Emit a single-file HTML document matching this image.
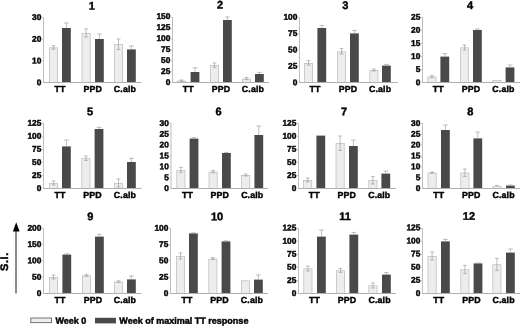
<!DOCTYPE html>
<html><head><meta charset="utf-8"><title>Figure</title>
<style>
html,body{margin:0;padding:0;background:#fff;}
body{width:520px;height:326px;overflow:hidden;}
svg{display:block;}
text{font-family:"Liberation Sans",Arial,Helvetica,sans-serif;font-weight:bold;fill:#000;stroke:#000;stroke-width:0.42px;text-rendering:geometricPrecision;}
.t{font-size:11px;text-anchor:middle;}
.c{font-size:8.8px;text-anchor:middle;letter-spacing:0.12px;}
.k{font-size:8.4px;text-anchor:end;}
.s{font-size:11px;letter-spacing:0.6px;}
.l{font-size:9.03px;}
</style></head><body>
<svg width="520" height="326" viewBox="0 0 520 326">
<defs><filter id="soft" x="0" y="0" width="520" height="326" filterUnits="userSpaceOnUse"><feGaussianBlur stdDeviation="0.3"/></filter></defs>
<rect width="520" height="326" fill="#fff"/>
<g filter="url(#soft)">
<rect width="520" height="326" fill="#fff"/>
<g><text class="t" x="91.7" y="9.5" transform="rotate(0.04 91.7 9.5)">1</text><rect x="49.4" y="47.8" width="8.2" height="34.7" fill="#ededed" stroke="#bababa" stroke-width="0.7"/><path d="M53.5 45.6V49.2M51.6 45.6H55.4M51.6 49.2H55.4" stroke="#929292" stroke-width="0.6" fill="none"/><rect x="62" y="28" width="8.8" height="54.5" fill="#4a4a4a"/><path d="M66.4 23V28M64 23H68.8" stroke="#9c9c9c" stroke-width="0.65" fill="none"/><text class="c" x="59.9" y="92.1" transform="rotate(0.04 59.9 92.1)">TT</text><rect x="82" y="33.4" width="8.2" height="49.1" fill="#ededed" stroke="#bababa" stroke-width="0.7"/><path d="M86.1 29V37M84.2 29H88M84.2 37H88" stroke="#929292" stroke-width="0.6" fill="none"/><rect x="95" y="39" width="8.8" height="43.5" fill="#4a4a4a"/><path d="M99.4 34V39M97 34H101.8" stroke="#9c9c9c" stroke-width="0.65" fill="none"/><text class="c" x="92.7" y="92.1" transform="rotate(0.04 92.7 92.1)">PPD</text><rect x="114.4" y="44.4" width="8.2" height="38.1" fill="#ededed" stroke="#bababa" stroke-width="0.7"/><path d="M118.5 39V49.4M116.6 39H120.4M116.6 49.4H120.4" stroke="#929292" stroke-width="0.6" fill="none"/><rect x="127" y="49.4" width="8.8" height="33.1" fill="#4a4a4a"/><path d="M131.4 46V49.4M129 46H133.8" stroke="#9c9c9c" stroke-width="0.65" fill="none"/><text class="c" x="124.9" y="92.1" transform="rotate(0.04 124.9 92.1)">C.alb</text><path d="M43.5 17.2V82.5" stroke="#bebebe" stroke-width="1" fill="none"/><path d="M43 82.5H141.6" stroke="#b0b0b0" stroke-width="1" fill="none"/><text class="k" x="41.4" y="85.2" transform="rotate(0.04 41.4 85.2)">0</text><text class="k" x="41.4" y="63.5" transform="rotate(0.04 41.4 63.5)">10</text><path d="M41.9 60.9H43.5" stroke="#bebebe" stroke-width="0.8" fill="none"/><text class="k" x="41.4" y="41.8" transform="rotate(0.04 41.4 41.8)">20</text><path d="M41.9 39.3H43.5" stroke="#bebebe" stroke-width="0.8" fill="none"/><text class="k" x="41.4" y="20.1" transform="rotate(0.04 41.4 20.1)">30</text><path d="M41.9 17.7H43.5" stroke="#bebebe" stroke-width="0.8" fill="none"/></g>
<g><text class="t" x="220" y="8.5" transform="rotate(0.04 220 8.5)">2</text><rect x="177.4" y="81" width="8.2" height="1.5" fill="#ededed" stroke="#bababa" stroke-width="0.7"/><path d="M181.5 80V81.4M179.6 80H183.4M179.6 81.4H183.4" stroke="#929292" stroke-width="0.6" fill="none"/><rect x="190.6" y="72" width="8.8" height="10.5" fill="#4a4a4a"/><path d="M195 67.8V72M192.6 67.8H197.4" stroke="#9c9c9c" stroke-width="0.65" fill="none"/><text class="c" x="188.2" y="92.1" transform="rotate(0.04 188.2 92.1)">TT</text><rect x="210.4" y="65.4" width="8.2" height="17.1" fill="#ededed" stroke="#bababa" stroke-width="0.7"/><path d="M214.5 63V67.4M212.6 63H216.4M212.6 67.4H216.4" stroke="#929292" stroke-width="0.6" fill="none"/><rect x="223" y="20" width="8.8" height="62.5" fill="#4a4a4a"/><path d="M227.4 17V20M225 17H229.8" stroke="#9c9c9c" stroke-width="0.65" fill="none"/><text class="c" x="220.9" y="92.1" transform="rotate(0.04 220.9 92.1)">PPD</text><rect x="242.4" y="79" width="8.2" height="3.5" fill="#ededed" stroke="#bababa" stroke-width="0.7"/><path d="M246.5 77.4V79.6M244.6 77.4H248.4M244.6 79.6H248.4" stroke="#929292" stroke-width="0.6" fill="none"/><rect x="255" y="74" width="8.8" height="8.5" fill="#4a4a4a"/><path d="M259.4 72.4V74M257 72.4H261.8" stroke="#9c9c9c" stroke-width="0.65" fill="none"/><text class="c" x="252.9" y="92.1" transform="rotate(0.04 252.9 92.1)">C.alb</text><path d="M172.5 17V82.5" stroke="#bebebe" stroke-width="1" fill="none"/><path d="M172 82.5H269" stroke="#b0b0b0" stroke-width="1" fill="none"/><text class="k" x="170.4" y="84.95" transform="rotate(0.04 170.4 84.95)">0</text><text class="k" x="170.4" y="73.97" transform="rotate(0.04 170.4 73.97)">25</text><path d="M170.9 71.67H172.5" stroke="#bebebe" stroke-width="0.8" fill="none"/><text class="k" x="170.4" y="63" transform="rotate(0.04 170.4 63)">50</text><path d="M170.9 60.83H172.5" stroke="#bebebe" stroke-width="0.8" fill="none"/><text class="k" x="170.4" y="52.02" transform="rotate(0.04 170.4 52.02)">75</text><path d="M170.9 50H172.5" stroke="#bebebe" stroke-width="0.8" fill="none"/><text class="k" x="170.4" y="41.05" transform="rotate(0.04 170.4 41.05)">100</text><path d="M170.9 39.17H172.5" stroke="#bebebe" stroke-width="0.8" fill="none"/><text class="k" x="170.4" y="30.07" transform="rotate(0.04 170.4 30.07)">125</text><path d="M170.9 28.33H172.5" stroke="#bebebe" stroke-width="0.8" fill="none"/><text class="k" x="170.4" y="19.1" transform="rotate(0.04 170.4 19.1)">150</text><path d="M170.9 17.5H172.5" stroke="#bebebe" stroke-width="0.8" fill="none"/></g>
<g><text class="t" x="345.4" y="9.1" transform="rotate(0.04 345.4 9.1)">3</text><rect x="304.4" y="63.4" width="8.2" height="19.1" fill="#ededed" stroke="#bababa" stroke-width="0.7"/><path d="M308.5 60.6V65.2M306.6 60.6H310.4M306.6 65.2H310.4" stroke="#929292" stroke-width="0.6" fill="none"/><rect x="317.4" y="28" width="8.8" height="54.5" fill="#4a4a4a"/><path d="M321.8 25.4V28M319.4 25.4H324.2" stroke="#9c9c9c" stroke-width="0.65" fill="none"/><text class="c" x="315.1" y="92.1" transform="rotate(0.04 315.1 92.1)">TT</text><rect x="337.4" y="51.8" width="8.2" height="30.7" fill="#ededed" stroke="#bababa" stroke-width="0.7"/><path d="M341.5 48.6V54M339.6 48.6H343.4M339.6 54H343.4" stroke="#929292" stroke-width="0.6" fill="none"/><rect x="350" y="33.4" width="8.8" height="49.1" fill="#4a4a4a"/><path d="M354.4 30.4V33.4M352 30.4H356.8" stroke="#9c9c9c" stroke-width="0.65" fill="none"/><text class="c" x="347.9" y="92.1" transform="rotate(0.04 347.9 92.1)">PPD</text><rect x="369.8" y="70.4" width="8.2" height="12.1" fill="#ededed" stroke="#bababa" stroke-width="0.7"/><path d="M373.9 69V71M372 69H375.8M372 71H375.8" stroke="#929292" stroke-width="0.6" fill="none"/><rect x="382" y="65.6" width="8.8" height="16.9" fill="#4a4a4a"/><path d="M386.4 64.4V65.6M384 64.4H388.8" stroke="#9c9c9c" stroke-width="0.65" fill="none"/><text class="c" x="380.1" y="92.1" transform="rotate(0.04 380.1 92.1)">C.alb</text><path d="M299.5 17V82.5" stroke="#bebebe" stroke-width="1" fill="none"/><path d="M299 82.5H398" stroke="#b0b0b0" stroke-width="1" fill="none"/><text class="k" x="297.4" y="85.2" transform="rotate(0.04 297.4 85.2)">0</text><text class="k" x="297.4" y="68.82" transform="rotate(0.04 297.4 68.82)">25</text><path d="M297.9 66.25H299.5" stroke="#bebebe" stroke-width="0.8" fill="none"/><text class="k" x="297.4" y="52.45" transform="rotate(0.04 297.4 52.45)">50</text><path d="M297.9 50H299.5" stroke="#bebebe" stroke-width="0.8" fill="none"/><text class="k" x="297.4" y="36.07" transform="rotate(0.04 297.4 36.07)">75</text><path d="M297.9 33.75H299.5" stroke="#bebebe" stroke-width="0.8" fill="none"/><text class="k" x="297.4" y="19.7" transform="rotate(0.04 297.4 19.7)">100</text><path d="M297.9 17.5H299.5" stroke="#bebebe" stroke-width="0.8" fill="none"/></g>
<g><text class="t" x="470" y="9.1" transform="rotate(0.04 470 9.1)">4</text><rect x="427.8" y="77" width="8.2" height="5.5" fill="#ededed" stroke="#bababa" stroke-width="0.7"/><path d="M431.9 75.6V77.6M430 75.6H433.8M430 77.6H433.8" stroke="#929292" stroke-width="0.6" fill="none"/><rect x="440.4" y="56.6" width="8.8" height="25.9" fill="#4a4a4a"/><path d="M444.8 53.6V56.6M442.4 53.6H447.2" stroke="#9c9c9c" stroke-width="0.65" fill="none"/><text class="c" x="438.3" y="92.1" transform="rotate(0.04 438.3 92.1)">TT</text><rect x="460.4" y="47.8" width="8.2" height="34.7" fill="#ededed" stroke="#bababa" stroke-width="0.7"/><path d="M464.5 45V50M462.6 45H466.4M462.6 50H466.4" stroke="#929292" stroke-width="0.6" fill="none"/><rect x="473" y="30" width="8.8" height="52.5" fill="#4a4a4a"/><path d="M477.4 29V30M475 29H479.8" stroke="#9c9c9c" stroke-width="0.65" fill="none"/><text class="c" x="470.9" y="92.1" transform="rotate(0.04 470.9 92.1)">PPD</text><rect x="492.8" y="80.4" width="8.2" height="2.1" fill="#ededed" stroke="#bababa" stroke-width="0.7"/><rect x="505.6" y="67.4" width="8.8" height="15.1" fill="#4a4a4a"/><path d="M510 65V67.4M507.6 65H512.4" stroke="#9c9c9c" stroke-width="0.65" fill="none"/><text class="c" x="503.4" y="92.1" transform="rotate(0.04 503.4 92.1)">C.alb</text><path d="M422.5 17V82.5" stroke="#bebebe" stroke-width="1" fill="none"/><path d="M422 82.5H520" stroke="#b0b0b0" stroke-width="1" fill="none"/><text class="k" x="420.4" y="85.2" transform="rotate(0.04 420.4 85.2)">0</text><text class="k" x="420.4" y="72.1" transform="rotate(0.04 420.4 72.1)">5</text><path d="M420.9 69.5H422.5" stroke="#bebebe" stroke-width="0.8" fill="none"/><text class="k" x="420.4" y="59" transform="rotate(0.04 420.4 59)">10</text><path d="M420.9 56.5H422.5" stroke="#bebebe" stroke-width="0.8" fill="none"/><text class="k" x="420.4" y="45.9" transform="rotate(0.04 420.4 45.9)">15</text><path d="M420.9 43.5H422.5" stroke="#bebebe" stroke-width="0.8" fill="none"/><text class="k" x="420.4" y="32.8" transform="rotate(0.04 420.4 32.8)">20</text><path d="M420.9 30.5H422.5" stroke="#bebebe" stroke-width="0.8" fill="none"/><text class="k" x="420.4" y="19.7" transform="rotate(0.04 420.4 19.7)">25</text><path d="M420.9 17.5H422.5" stroke="#bebebe" stroke-width="0.8" fill="none"/></g>
<g><text class="t" x="90" y="115.15" transform="rotate(0.04 90 115.15)">5</text><rect x="49.4" y="183.4" width="8.2" height="5.1" fill="#ededed" stroke="#bababa" stroke-width="0.7"/><path d="M53.5 181V185M51.6 181H55.4M51.6 185H55.4" stroke="#929292" stroke-width="0.6" fill="none"/><rect x="62" y="146.4" width="8.8" height="42.1" fill="#4a4a4a"/><path d="M66.4 140V146.4M64 140H68.8" stroke="#9c9c9c" stroke-width="0.65" fill="none"/><text class="c" x="59.9" y="198.1" transform="rotate(0.04 59.9 198.1)">TT</text><rect x="81.8" y="158.6" width="8.2" height="29.9" fill="#ededed" stroke="#bababa" stroke-width="0.7"/><path d="M85.9 156V160.4M84 156H87.8M84 160.4H87.8" stroke="#929292" stroke-width="0.6" fill="none"/><rect x="94.6" y="129" width="8.8" height="59.5" fill="#4a4a4a"/><path d="M99 127.4V129M96.6 127.4H101.4" stroke="#9c9c9c" stroke-width="0.65" fill="none"/><text class="c" x="92.4" y="198.1" transform="rotate(0.04 92.4 198.1)">PPD</text><rect x="114.4" y="183.4" width="8.2" height="5.1" fill="#ededed" stroke="#bababa" stroke-width="0.7"/><path d="M118.5 179V187M116.6 179H120.4M116.6 187H120.4" stroke="#929292" stroke-width="0.6" fill="none"/><rect x="127" y="162" width="8.8" height="26.5" fill="#4a4a4a"/><path d="M131.4 158.4V162M129 158.4H133.8" stroke="#9c9c9c" stroke-width="0.65" fill="none"/><text class="c" x="124.9" y="198.1" transform="rotate(0.04 124.9 198.1)">C.alb</text><path d="M43.5 123V188.5" stroke="#bebebe" stroke-width="1" fill="none"/><path d="M43 188.5H141.6" stroke="#b0b0b0" stroke-width="1" fill="none"/><text class="k" x="41.4" y="191.1" transform="rotate(0.04 41.4 191.1)">0</text><text class="k" x="41.4" y="178.03" transform="rotate(0.04 41.4 178.03)">25</text><path d="M41.9 175.5H43.5" stroke="#bebebe" stroke-width="0.8" fill="none"/><text class="k" x="41.4" y="164.96" transform="rotate(0.04 41.4 164.96)">50</text><path d="M41.9 162.5H43.5" stroke="#bebebe" stroke-width="0.8" fill="none"/><text class="k" x="41.4" y="151.89" transform="rotate(0.04 41.4 151.89)">75</text><path d="M41.9 149.5H43.5" stroke="#bebebe" stroke-width="0.8" fill="none"/><text class="k" x="41.4" y="138.82" transform="rotate(0.04 41.4 138.82)">100</text><path d="M41.9 136.5H43.5" stroke="#bebebe" stroke-width="0.8" fill="none"/><text class="k" x="41.4" y="125.75" transform="rotate(0.04 41.4 125.75)">125</text><path d="M41.9 123.5H43.5" stroke="#bebebe" stroke-width="0.8" fill="none"/></g>
<g><text class="t" x="218.6" y="115.3" transform="rotate(0.04 218.6 115.3)">6</text><rect x="176.8" y="170.4" width="8.2" height="18.1" fill="#ededed" stroke="#bababa" stroke-width="0.7"/><path d="M180.9 167.4V172.6M179 167.4H182.8M179 172.6H182.8" stroke="#929292" stroke-width="0.6" fill="none"/><rect x="189.6" y="138.6" width="8.8" height="49.9" fill="#4a4a4a"/><path d="M194 137.6V138.6M191.6 137.6H196.4" stroke="#9c9c9c" stroke-width="0.65" fill="none"/><text class="c" x="187.4" y="198.1" transform="rotate(0.04 187.4 198.1)">TT</text><rect x="209" y="172" width="8.2" height="16.5" fill="#ededed" stroke="#bababa" stroke-width="0.7"/><path d="M213.1 170.4V172.8M211.2 170.4H215M211.2 172.8H215" stroke="#929292" stroke-width="0.6" fill="none"/><rect x="222" y="153" width="8.8" height="35.5" fill="#4a4a4a"/><path d="M226.4 152.4V153M224 152.4H228.8" stroke="#9c9c9c" stroke-width="0.65" fill="none"/><text class="c" x="219.7" y="198.1" transform="rotate(0.04 219.7 198.1)">PPD</text><rect x="241.6" y="175.4" width="8.2" height="13.1" fill="#ededed" stroke="#bababa" stroke-width="0.7"/><path d="M245.7 174V176M243.8 174H247.6M243.8 176H247.6" stroke="#929292" stroke-width="0.6" fill="none"/><rect x="254.4" y="135" width="8.8" height="53.5" fill="#4a4a4a"/><path d="M258.8 126V135M256.4 126H261.2" stroke="#9c9c9c" stroke-width="0.65" fill="none"/><text class="c" x="252.2" y="198.1" transform="rotate(0.04 252.2 198.1)">C.alb</text><path d="M171 123V188.5" stroke="#bebebe" stroke-width="1" fill="none"/><path d="M170.5 188.5H268" stroke="#b0b0b0" stroke-width="1" fill="none"/><text class="k" x="168.9" y="191.1" transform="rotate(0.04 168.9 191.1)">0</text><text class="k" x="168.9" y="180.23" transform="rotate(0.04 168.9 180.23)">5</text><path d="M169.4 177.67H171" stroke="#bebebe" stroke-width="0.8" fill="none"/><text class="k" x="168.9" y="169.37" transform="rotate(0.04 168.9 169.37)">10</text><path d="M169.4 166.83H171" stroke="#bebebe" stroke-width="0.8" fill="none"/><text class="k" x="168.9" y="158.5" transform="rotate(0.04 168.9 158.5)">15</text><path d="M169.4 156H171" stroke="#bebebe" stroke-width="0.8" fill="none"/><text class="k" x="168.9" y="147.63" transform="rotate(0.04 168.9 147.63)">20</text><path d="M169.4 145.17H171" stroke="#bebebe" stroke-width="0.8" fill="none"/><text class="k" x="168.9" y="136.77" transform="rotate(0.04 168.9 136.77)">25</text><path d="M169.4 134.33H171" stroke="#bebebe" stroke-width="0.8" fill="none"/><text class="k" x="168.9" y="125.9" transform="rotate(0.04 168.9 125.9)">30</text><path d="M169.4 123.5H171" stroke="#bebebe" stroke-width="0.8" fill="none"/></g>
<g><text class="t" x="344" y="115.15" transform="rotate(0.04 344 115.15)">7</text><rect x="303.6" y="180.4" width="8.2" height="8.1" fill="#ededed" stroke="#bababa" stroke-width="0.7"/><path d="M307.7 178V182M305.8 178H309.6M305.8 182H309.6" stroke="#929292" stroke-width="0.6" fill="none"/><rect x="316.4" y="135.6" width="8.8" height="52.9" fill="#4a4a4a"/><text class="c" x="314.2" y="198.1" transform="rotate(0.04 314.2 198.1)">TT</text><rect x="336" y="143.4" width="8.2" height="45.1" fill="#ededed" stroke="#bababa" stroke-width="0.7"/><path d="M340.1 136V150.4M338.2 136H342M338.2 150.4H342" stroke="#929292" stroke-width="0.6" fill="none"/><rect x="349" y="146" width="8.8" height="42.5" fill="#4a4a4a"/><path d="M353.4 140V146M351 140H355.8" stroke="#9c9c9c" stroke-width="0.65" fill="none"/><text class="c" x="346.7" y="198.1" transform="rotate(0.04 346.7 198.1)">PPD</text><rect x="368.8" y="180.4" width="8.2" height="8.1" fill="#ededed" stroke="#bababa" stroke-width="0.7"/><path d="M372.9 176.4V184M371 176.4H374.8M371 184H374.8" stroke="#929292" stroke-width="0.6" fill="none"/><rect x="381.4" y="173.6" width="8.8" height="14.9" fill="#4a4a4a"/><path d="M385.8 171V173.6M383.4 171H388.2" stroke="#9c9c9c" stroke-width="0.65" fill="none"/><text class="c" x="379.3" y="198.1" transform="rotate(0.04 379.3 198.1)">C.alb</text><path d="M298.5 123V188.5" stroke="#bebebe" stroke-width="1" fill="none"/><path d="M298 188.5H396" stroke="#b0b0b0" stroke-width="1" fill="none"/><text class="k" x="296.4" y="191.1" transform="rotate(0.04 296.4 191.1)">0</text><text class="k" x="296.4" y="178.03" transform="rotate(0.04 296.4 178.03)">25</text><path d="M296.9 175.5H298.5" stroke="#bebebe" stroke-width="0.8" fill="none"/><text class="k" x="296.4" y="164.96" transform="rotate(0.04 296.4 164.96)">50</text><path d="M296.9 162.5H298.5" stroke="#bebebe" stroke-width="0.8" fill="none"/><text class="k" x="296.4" y="151.89" transform="rotate(0.04 296.4 151.89)">75</text><path d="M296.9 149.5H298.5" stroke="#bebebe" stroke-width="0.8" fill="none"/><text class="k" x="296.4" y="138.82" transform="rotate(0.04 296.4 138.82)">100</text><path d="M296.9 136.5H298.5" stroke="#bebebe" stroke-width="0.8" fill="none"/><text class="k" x="296.4" y="125.75" transform="rotate(0.04 296.4 125.75)">125</text><path d="M296.9 123.5H298.5" stroke="#bebebe" stroke-width="0.8" fill="none"/></g>
<g><text class="t" x="470.4" y="115.3" transform="rotate(0.04 470.4 115.3)">8</text><rect x="428" y="173" width="8.2" height="15.5" fill="#ededed" stroke="#bababa" stroke-width="0.7"/><path d="M432.1 172V173.2M430.2 172H434M430.2 173.2H434" stroke="#929292" stroke-width="0.6" fill="none"/><rect x="441" y="130" width="8.8" height="58.5" fill="#4a4a4a"/><path d="M445.4 125V130M443 125H447.8" stroke="#9c9c9c" stroke-width="0.65" fill="none"/><text class="c" x="438.7" y="198.1" transform="rotate(0.04 438.7 198.1)">TT</text><rect x="460.8" y="173" width="8.2" height="15.5" fill="#ededed" stroke="#bababa" stroke-width="0.7"/><path d="M464.9 169V176.4M463 169H466.8M463 176.4H466.8" stroke="#929292" stroke-width="0.6" fill="none"/><rect x="473.4" y="138.4" width="8.8" height="50.1" fill="#4a4a4a"/><path d="M477.8 132V138.4M475.4 132H480.2" stroke="#9c9c9c" stroke-width="0.65" fill="none"/><text class="c" x="471.3" y="198.1" transform="rotate(0.04 471.3 198.1)">PPD</text><rect x="492.8" y="186.4" width="8.2" height="2.1" fill="#ededed" stroke="#bababa" stroke-width="0.7"/><path d="M496.9 185.4V186M495 185.4H498.8" stroke="#929292" stroke-width="0.6" fill="none"/><rect x="506" y="185.6" width="8.8" height="2.9" fill="#4a4a4a"/><path d="M510.4 185V185.6M508 185H512.8" stroke="#9c9c9c" stroke-width="0.65" fill="none"/><text class="c" x="503.6" y="198.1" transform="rotate(0.04 503.6 198.1)">C.alb</text><path d="M422.5 123V188.5" stroke="#bebebe" stroke-width="1" fill="none"/><path d="M422 188.5H520" stroke="#b0b0b0" stroke-width="1" fill="none"/><text class="k" x="420.4" y="191.1" transform="rotate(0.04 420.4 191.1)">0</text><text class="k" x="420.4" y="180.23" transform="rotate(0.04 420.4 180.23)">5</text><path d="M420.9 177.67H422.5" stroke="#bebebe" stroke-width="0.8" fill="none"/><text class="k" x="420.4" y="169.37" transform="rotate(0.04 420.4 169.37)">10</text><path d="M420.9 166.83H422.5" stroke="#bebebe" stroke-width="0.8" fill="none"/><text class="k" x="420.4" y="158.5" transform="rotate(0.04 420.4 158.5)">15</text><path d="M420.9 156H422.5" stroke="#bebebe" stroke-width="0.8" fill="none"/><text class="k" x="420.4" y="147.63" transform="rotate(0.04 420.4 147.63)">20</text><path d="M420.9 145.17H422.5" stroke="#bebebe" stroke-width="0.8" fill="none"/><text class="k" x="420.4" y="136.77" transform="rotate(0.04 420.4 136.77)">25</text><path d="M420.9 134.33H422.5" stroke="#bebebe" stroke-width="0.8" fill="none"/><text class="k" x="420.4" y="125.9" transform="rotate(0.04 420.4 125.9)">30</text><path d="M420.9 123.5H422.5" stroke="#bebebe" stroke-width="0.8" fill="none"/></g>
<g><text class="t" x="90.4" y="220.15" transform="rotate(0.04 90.4 220.15)">9</text><rect x="49.4" y="277.4" width="8.2" height="16.1" fill="#ededed" stroke="#bababa" stroke-width="0.7"/><path d="M53.5 275V279M51.6 275H55.4M51.6 279H55.4" stroke="#929292" stroke-width="0.6" fill="none"/><rect x="62.4" y="254.6" width="8.8" height="38.9" fill="#4a4a4a"/><path d="M66.8 253.8V254.6M64.4 253.8H69.2" stroke="#9c9c9c" stroke-width="0.65" fill="none"/><text class="c" x="60.1" y="303.1" transform="rotate(0.04 60.1 303.1)">TT</text><rect x="82.4" y="275.8" width="8.2" height="17.7" fill="#ededed" stroke="#bababa" stroke-width="0.7"/><path d="M86.5 274.4V276.4M84.6 274.4H88.4M84.6 276.4H88.4" stroke="#929292" stroke-width="0.6" fill="none"/><rect x="95" y="236.6" width="8.8" height="56.9" fill="#4a4a4a"/><path d="M99.4 234.4V236.6M97 234.4H101.8" stroke="#9c9c9c" stroke-width="0.65" fill="none"/><text class="c" x="92.9" y="303.1" transform="rotate(0.04 92.9 303.1)">PPD</text><rect x="114.4" y="282" width="8.2" height="11.5" fill="#ededed" stroke="#bababa" stroke-width="0.7"/><path d="M118.5 280.8V282.4M116.6 280.8H120.4M116.6 282.4H120.4" stroke="#929292" stroke-width="0.6" fill="none"/><rect x="127" y="279.4" width="8.8" height="14.1" fill="#4a4a4a"/><path d="M131.4 276V279.4M129 276H133.8" stroke="#9c9c9c" stroke-width="0.65" fill="none"/><text class="c" x="124.9" y="303.1" transform="rotate(0.04 124.9 303.1)">C.alb</text><path d="M43.5 228V293.5" stroke="#bebebe" stroke-width="1" fill="none"/><path d="M43 293.5H141.6" stroke="#b0b0b0" stroke-width="1" fill="none"/><text class="k" x="41.4" y="296" transform="rotate(0.04 41.4 296)">0</text><text class="k" x="41.4" y="279.69" transform="rotate(0.04 41.4 279.69)">50</text><path d="M41.9 277.25H43.5" stroke="#bebebe" stroke-width="0.8" fill="none"/><text class="k" x="41.4" y="263.37" transform="rotate(0.04 41.4 263.37)">100</text><path d="M41.9 261H43.5" stroke="#bebebe" stroke-width="0.8" fill="none"/><text class="k" x="41.4" y="247.06" transform="rotate(0.04 41.4 247.06)">150</text><path d="M41.9 244.75H43.5" stroke="#bebebe" stroke-width="0.8" fill="none"/><text class="k" x="41.4" y="230.75" transform="rotate(0.04 41.4 230.75)">200</text><path d="M41.9 228.5H43.5" stroke="#bebebe" stroke-width="0.8" fill="none"/></g>
<g><text class="t" x="217" y="220.15" transform="rotate(0.04 217 220.15)">10</text><rect x="176.4" y="256.4" width="8.2" height="37.1" fill="#ededed" stroke="#bababa" stroke-width="0.7"/><path d="M180.5 253V259M178.6 253H182.4M178.6 259H182.4" stroke="#929292" stroke-width="0.6" fill="none"/><rect x="189" y="233.4" width="8.8" height="60.1" fill="#4a4a4a"/><path d="M193.4 232.8V233.4M191 232.8H195.8" stroke="#9c9c9c" stroke-width="0.65" fill="none"/><text class="c" x="186.9" y="303.1" transform="rotate(0.04 186.9 303.1)">TT</text><rect x="208.8" y="259" width="8.2" height="34.5" fill="#ededed" stroke="#bababa" stroke-width="0.7"/><path d="M212.9 257.6V259.6M211 257.6H214.8M211 259.6H214.8" stroke="#929292" stroke-width="0.6" fill="none"/><rect x="221.6" y="241.4" width="8.8" height="52.1" fill="#4a4a4a"/><path d="M226 240.8V241.4M223.6 240.8H228.4" stroke="#9c9c9c" stroke-width="0.65" fill="none"/><text class="c" x="219.4" y="303.1" transform="rotate(0.04 219.4 303.1)">PPD</text><rect x="241.4" y="280.8" width="8.2" height="12.7" fill="#ededed" stroke="#bababa" stroke-width="0.7"/><rect x="254" y="279.6" width="8.8" height="13.9" fill="#4a4a4a"/><path d="M258.4 275V279.6M256 275H260.8" stroke="#9c9c9c" stroke-width="0.65" fill="none"/><text class="c" x="251.9" y="303.1" transform="rotate(0.04 251.9 303.1)">C.alb</text><path d="M170.5 228V293.5" stroke="#bebebe" stroke-width="1" fill="none"/><path d="M170 293.5H268" stroke="#b0b0b0" stroke-width="1" fill="none"/><text class="k" x="168.4" y="296" transform="rotate(0.04 168.4 296)">0</text><text class="k" x="168.4" y="279.69" transform="rotate(0.04 168.4 279.69)">25</text><path d="M168.9 277.25H170.5" stroke="#bebebe" stroke-width="0.8" fill="none"/><text class="k" x="168.4" y="263.37" transform="rotate(0.04 168.4 263.37)">50</text><path d="M168.9 261H170.5" stroke="#bebebe" stroke-width="0.8" fill="none"/><text class="k" x="168.4" y="247.06" transform="rotate(0.04 168.4 247.06)">75</text><path d="M168.9 244.75H170.5" stroke="#bebebe" stroke-width="0.8" fill="none"/><text class="k" x="168.4" y="230.75" transform="rotate(0.04 168.4 230.75)">100</text><path d="M168.9 228.5H170.5" stroke="#bebebe" stroke-width="0.8" fill="none"/></g>
<g><text class="t" x="345" y="220" transform="rotate(0.04 345 220)">11</text><rect x="303.8" y="268.8" width="8.2" height="24.7" fill="#ededed" stroke="#bababa" stroke-width="0.7"/><path d="M307.9 266V271M306 266H309.8M306 271H309.8" stroke="#929292" stroke-width="0.6" fill="none"/><rect x="317" y="236.6" width="8.8" height="56.9" fill="#4a4a4a"/><path d="M321.4 230V236.6M319 230H323.8" stroke="#9c9c9c" stroke-width="0.65" fill="none"/><text class="c" x="314.6" y="303.1" transform="rotate(0.04 314.6 303.1)">TT</text><rect x="336.4" y="270.8" width="8.2" height="22.7" fill="#ededed" stroke="#bababa" stroke-width="0.7"/><path d="M340.5 268.4V272.4M338.6 268.4H342.4M338.6 272.4H342.4" stroke="#929292" stroke-width="0.6" fill="none"/><rect x="349.4" y="234.6" width="8.8" height="58.9" fill="#4a4a4a"/><path d="M353.8 232.4V234.6M351.4 232.4H356.2" stroke="#9c9c9c" stroke-width="0.65" fill="none"/><text class="c" x="347.1" y="303.1" transform="rotate(0.04 347.1 303.1)">PPD</text><rect x="368.8" y="285.8" width="8.2" height="7.7" fill="#ededed" stroke="#bababa" stroke-width="0.7"/><path d="M372.9 283V288M371 283H374.8M371 288H374.8" stroke="#929292" stroke-width="0.6" fill="none"/><rect x="382" y="274.6" width="8.8" height="18.9" fill="#4a4a4a"/><path d="M386.4 272.6V274.6M384 272.6H388.8" stroke="#9c9c9c" stroke-width="0.65" fill="none"/><text class="c" x="379.6" y="303.1" transform="rotate(0.04 379.6 303.1)">C.alb</text><path d="M298.5 228V293.5" stroke="#bebebe" stroke-width="1" fill="none"/><path d="M298 293.5H396" stroke="#b0b0b0" stroke-width="1" fill="none"/><text class="k" x="296.4" y="296" transform="rotate(0.04 296.4 296)">0</text><text class="k" x="296.4" y="282.92" transform="rotate(0.04 296.4 282.92)">25</text><path d="M296.9 280.5H298.5" stroke="#bebebe" stroke-width="0.8" fill="none"/><text class="k" x="296.4" y="269.84" transform="rotate(0.04 296.4 269.84)">50</text><path d="M296.9 267.5H298.5" stroke="#bebebe" stroke-width="0.8" fill="none"/><text class="k" x="296.4" y="256.76" transform="rotate(0.04 296.4 256.76)">75</text><path d="M296.9 254.5H298.5" stroke="#bebebe" stroke-width="0.8" fill="none"/><text class="k" x="296.4" y="243.68" transform="rotate(0.04 296.4 243.68)">100</text><path d="M296.9 241.5H298.5" stroke="#bebebe" stroke-width="0.8" fill="none"/><text class="k" x="296.4" y="230.6" transform="rotate(0.04 296.4 230.6)">125</text><path d="M296.9 228.5H298.5" stroke="#bebebe" stroke-width="0.8" fill="none"/></g>
<g><text class="t" x="469" y="219.7" transform="rotate(0.04 469 219.7)">12</text><rect x="428" y="256.4" width="8.2" height="37.1" fill="#ededed" stroke="#bababa" stroke-width="0.7"/><path d="M432.1 252V260M430.2 252H434M430.2 260H434" stroke="#929292" stroke-width="0.6" fill="none"/><rect x="441" y="241.4" width="8.8" height="52.1" fill="#4a4a4a"/><path d="M445.4 239.4V241.4M443 239.4H447.8" stroke="#9c9c9c" stroke-width="0.65" fill="none"/><text class="c" x="438.7" y="303.1" transform="rotate(0.04 438.7 303.1)">TT</text><rect x="460.8" y="269.8" width="8.2" height="23.7" fill="#ededed" stroke="#bababa" stroke-width="0.7"/><path d="M464.9 265.4V273.4M463 265.4H466.8M463 273.4H466.8" stroke="#929292" stroke-width="0.6" fill="none"/><rect x="473.6" y="263.4" width="8.8" height="30.1" fill="#4a4a4a"/><path d="M478 263V263.4M475.6 263H480.4" stroke="#9c9c9c" stroke-width="0.65" fill="none"/><text class="c" x="471.4" y="303.1" transform="rotate(0.04 471.4 303.1)">PPD</text><rect x="492.8" y="264.8" width="8.2" height="28.7" fill="#ededed" stroke="#bababa" stroke-width="0.7"/><path d="M496.9 258.4V270.4M495 258.4H498.8M495 270.4H498.8" stroke="#929292" stroke-width="0.6" fill="none"/><rect x="506" y="252.6" width="8.8" height="40.9" fill="#4a4a4a"/><path d="M510.4 249V252.6M508 249H512.8" stroke="#9c9c9c" stroke-width="0.65" fill="none"/><text class="c" x="503.6" y="303.1" transform="rotate(0.04 503.6 303.1)">C.alb</text><path d="M422.5 228V293.5" stroke="#bebebe" stroke-width="1" fill="none"/><path d="M422 293.5H520" stroke="#b0b0b0" stroke-width="1" fill="none"/><text class="k" x="420.4" y="296" transform="rotate(0.04 420.4 296)">0</text><text class="k" x="420.4" y="282.86" transform="rotate(0.04 420.4 282.86)">25</text><path d="M420.9 280.5H422.5" stroke="#bebebe" stroke-width="0.8" fill="none"/><text class="k" x="420.4" y="269.72" transform="rotate(0.04 420.4 269.72)">50</text><path d="M420.9 267.5H422.5" stroke="#bebebe" stroke-width="0.8" fill="none"/><text class="k" x="420.4" y="256.58" transform="rotate(0.04 420.4 256.58)">75</text><path d="M420.9 254.5H422.5" stroke="#bebebe" stroke-width="0.8" fill="none"/><text class="k" x="420.4" y="243.44" transform="rotate(0.04 420.4 243.44)">100</text><path d="M420.9 241.5H422.5" stroke="#bebebe" stroke-width="0.8" fill="none"/><text class="k" x="420.4" y="230.3" transform="rotate(0.04 420.4 230.3)">125</text><path d="M420.9 228.5H422.5" stroke="#bebebe" stroke-width="0.8" fill="none"/></g>
<g><path d="M16 231V293.5" stroke="#808080" stroke-width="1.8" fill="none"/><path d="M16.2 222.2L19.6 231.5H12.9Z" fill="#000"/><text class="s" transform="translate(8.1 261.6) rotate(-89.96)" text-anchor="middle">S.I.</text><rect x="30.8" y="318" width="20.8" height="4.7" fill="#ededed" stroke="#555" stroke-width="0.8"/><text class="l" x="55.4" y="323.7" transform="rotate(0.04 55.4 323.7)">Week 0</text><rect x="95" y="317.8" width="21" height="5.6" fill="#4a4a4a"/><text class="l" x="119.3" y="323.7" transform="rotate(0.04 119.3 323.7)">Week of maximal TT response</text></g>
</g>
</svg>
</body></html>
